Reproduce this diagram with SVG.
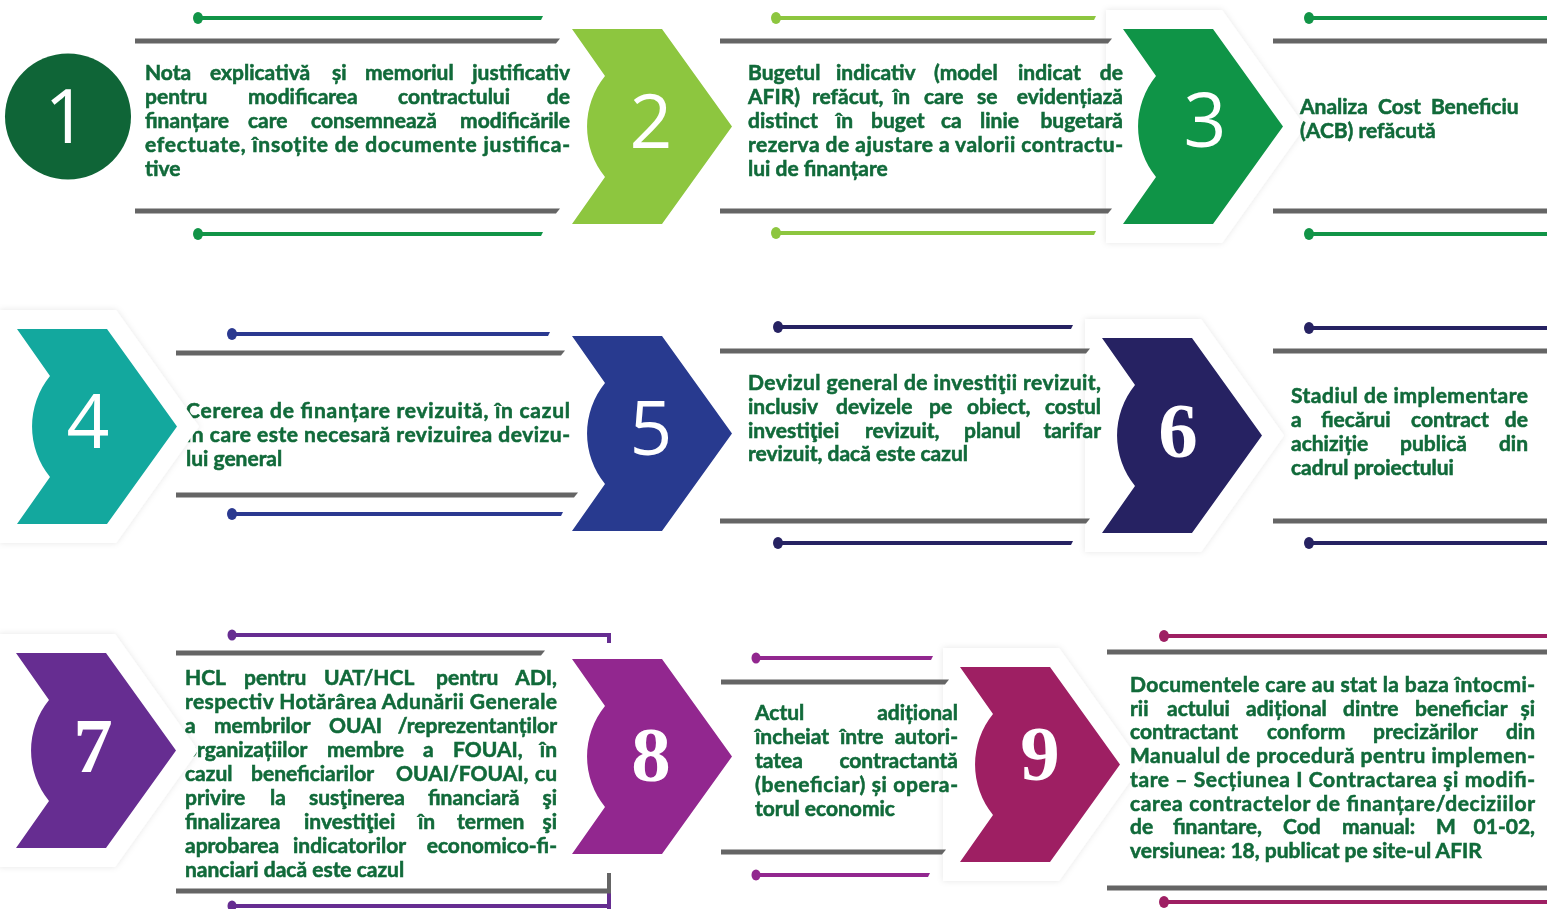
<svg xmlns="http://www.w3.org/2000/svg" xmlns:xlink="http://www.w3.org/1999/xlink" width="1547" height="909" viewBox="0 0 1547 909">
<style>
.t{font-family:Lato,"Open Sans","Liberation Sans",sans-serif;font-weight:700;font-size:21px;fill:#116a3a;stroke:#116a3a;stroke-width:0.55px}
.e{text-anchor:end}
.gl{fill:#656565}
.ns{font-family:"Open Sans","Liberation Sans",sans-serif;font-weight:500;font-size:75px;fill:#fff;text-anchor:middle}
.nf{font-family:"Liberation Serif",serif;font-weight:700;font-size:79px;fill:#fff;text-anchor:middle}
</style>
<defs>
<path id="chev" d="M0 0H90L160 97.5L90 195H0L33 148A80 80 0 0 1 33 47Z"/>
<path id="shd" d="M-17 -19H99L182 97.5L99 214H-17Z"/>
<filter id="soft" x="-20%" y="-20%" width="140%" height="140%"><feDropShadow dx="0" dy="0" stdDeviation="3" flood-color="#000" flood-opacity="0.10"/></filter>
</defs>
<rect width="1547" height="909" fill="#fff"/>

<g id="backdrops" fill="#fff" filter="url(#soft)">
<use href="#shd" x="1123" y="29"/>
<use href="#shd" x="1102" y="338"/>
<use href="#shd" x="960" y="667"/>
</g>

<g id="step1">
<g fill="#119447"><ellipse cx="198" cy="18" rx="5" ry="6"/><path d="M198 16H543L541 20H198Z"/><ellipse cx="198" cy="234" rx="5" ry="6"/><path d="M198 232H543L541 236H198Z"/></g>
<path class="gl" d="M135 38.5H560L556 43.5H135Z"/><path class="gl" d="M135 208.5H560L556 213.5H135Z"/>
<circle cx="68" cy="116.5" r="63" fill="#0f6537"/>
<text class="ns" x="66" y="143">1</text>
<text class="t" y="80"><tspan x="145">Nota</tspan><tspan x="210">explicativă</tspan><tspan x="332">și</tspan><tspan x="365">memoriul</tspan><tspan x="570" class="e">justificativ</tspan></text>
<text class="t" y="104"><tspan x="145">pentru</tspan><tspan x="248">modificarea</tspan><tspan x="398">contractului</tspan><tspan x="570" class="e">de</tspan></text>
<text class="t" y="128"><tspan x="145">finanțare</tspan><tspan x="248">care</tspan><tspan x="311">consemnează</tspan><tspan x="570" class="e">modificările</tspan></text>
<text class="t" x="145" y="152" textLength="425" lengthAdjust="spacing">efectuate, însoțite de documente justifica-</text>
<text class="t" x="145" y="176">tive</text>
</g>

<g id="step2">
<g fill="#8dc63f"><ellipse cx="776" cy="18" rx="5" ry="6"/><path d="M776 16H1096L1094 20H776Z"/><ellipse cx="776" cy="233" rx="5" ry="6"/><path d="M776 231H1096L1094 235H776Z"/></g>
<path class="gl" d="M720 38.5H1112L1108 43.5H720Z"/><path class="gl" d="M720 208.5H1112L1108 213.5H720Z"/>
<text class="t" y="80"><tspan x="748">Bugetul</tspan><tspan x="836">indicativ</tspan><tspan x="934">(model</tspan><tspan x="1018">indicat</tspan><tspan x="1123" class="e">de</tspan></text>
<text class="t" y="104"><tspan x="748">AFIR)</tspan><tspan x="812">refăcut,</tspan><tspan x="893">în</tspan><tspan x="924">care</tspan><tspan x="977">se</tspan><tspan x="1123" class="e">evidențiază</tspan></text>
<text class="t" y="128"><tspan x="748">distinct</tspan><tspan x="836">în</tspan><tspan x="871">buget</tspan><tspan x="941">ca</tspan><tspan x="980">linie</tspan><tspan x="1123" class="e">bugetară</tspan></text>
<text class="t" x="748" y="152" textLength="375" lengthAdjust="spacing">rezerva de ajustare a valorii contractu-</text>
<text class="t" x="748" y="176">lui de finanțare</text>
<use href="#chev" x="572" y="29" fill="#8dc63f"/>
<text class="ns" x="651" y="148">2</text>
</g>

<g id="step3">
<g fill="#119447"><ellipse cx="1309" cy="18" rx="5" ry="6"/><path d="M1309 16H1547V20H1309Z"/><ellipse cx="1309" cy="234" rx="5" ry="6"/><path d="M1309 232H1547V236H1309Z"/></g>
<path class="gl" d="M1273 38.5H1547V43.5H1273Z"/><path class="gl" d="M1273 208.5H1547V213.5H1273Z"/>
<text class="t" x="1300" y="114" word-spacing="5">Analiza Cost Beneficiu</text>
<text class="t" x="1300" y="138">(ACB) refăcută</text>
<use href="#chev" x="1123" y="29" fill="#0f9447"/>
<text class="ns" x="1205" y="147">3</text>
</g>

<g id="step4">
<g fill="#2b3990"><ellipse cx="232" cy="334" rx="5" ry="6"/><path d="M232 332H550L548 336H232Z"/><ellipse cx="232" cy="514" rx="5" ry="6"/><path d="M232 512H563L561 516H232Z"/></g>
<path class="gl" d="M176 350.5H565L561 355.5H176Z"/><path class="gl" d="M176 492.5H578L574 497.5H176Z"/>
<text class="t" x="186" y="418" textLength="384" lengthAdjust="spacing">Cererea de finanțare revizuită, în cazul</text>
<text class="t" x="186" y="442" textLength="384" lengthAdjust="spacing">în care este necesară revizuirea devizu-</text>
<text class="t" x="186" y="466">lui general</text>
<use href="#shd" x="17" y="329" fill="#fff" filter="url(#soft)"/>
<use href="#chev" x="17" y="329" fill="#13a89e"/>
<text class="ns" x="88" y="448">4</text>
</g>

<g id="step5">
<g fill="#262262"><ellipse cx="778" cy="327" rx="5" ry="6"/><path d="M778 325H1073L1071 329H778Z"/><ellipse cx="778" cy="543" rx="5" ry="6"/><path d="M778 541H1073L1071 545H778Z"/></g>
<path class="gl" d="M720 348.5H1090L1086 353.5H720Z"/><path class="gl" d="M720 518.5H1090L1086 523.5H720Z"/>
<text class="t" x="748" y="390" textLength="353" lengthAdjust="spacing">Devizul general de investiţii revizuit,</text>
<text class="t" y="414"><tspan x="748">inclusiv</tspan><tspan x="836">devizele</tspan><tspan x="929">pe</tspan><tspan x="967">obiect,</tspan><tspan x="1101" class="e">costul</tspan></text>
<text class="t" y="438"><tspan x="748">investiţiei</tspan><tspan x="865">revizuit,</tspan><tspan x="964">planul</tspan><tspan x="1101" class="e">tarifar</tspan></text>
<text class="t" x="748" y="461">revizuit, dacă este cazul</text>
<use href="#chev" x="572" y="336" fill="#283a8f"/>
<text class="ns" x="651" y="455">5</text>
</g>

<g id="step6">
<g fill="#262262"><ellipse cx="1309" cy="328" rx="5" ry="6"/><path d="M1309 326H1547V330H1309Z"/><ellipse cx="1309" cy="543" rx="5" ry="6"/><path d="M1309 541H1547V545H1309Z"/></g>
<path class="gl" d="M1273 348.5H1547V353.5H1273Z"/><path class="gl" d="M1273 518.5H1547V523.5H1273Z"/>
<text class="t" x="1291" y="403" textLength="237" lengthAdjust="spacing">Stadiul de implementare</text>
<text class="t" y="427"><tspan x="1291">a</tspan><tspan x="1321">fiecărui</tspan><tspan x="1411">contract</tspan><tspan x="1528" class="e">de</tspan></text>
<text class="t" y="451"><tspan x="1291">achiziție</tspan><tspan x="1400">publică</tspan><tspan x="1528" class="e">din</tspan></text>
<text class="t" x="1291" y="475">cadrul proiectului</text>
<use href="#chev" x="1102" y="338" fill="#262262"/>
<text class="nf" x="1178" y="457">6</text>
</g>

<g id="step7">
<g fill="#662d91"><ellipse cx="232" cy="635" rx="4.5" ry="5.5"/><path d="M232 633H611V643H607V637H232Z"/><ellipse cx="232" cy="906" rx="4.5" ry="5.5"/><path d="M232 904H607V890H611V909H607V908H232Z"/></g>
<path class="gl" d="M176 650.5H545L541 655.5H176Z"/><path class="gl" d="M176 888.5H607V873H611V893.5H176Z"/>
<text class="t" y="685"><tspan x="185">HCL</tspan><tspan x="244">pentru</tspan><tspan x="324">UAT/HCL</tspan><tspan x="436">pentru</tspan><tspan x="557" class="e">ADI,</tspan></text>
<text class="t" x="185" y="709" textLength="372" lengthAdjust="spacing">respectiv Hotărârea Adunării Generale</text>
<text class="t" y="733"><tspan x="185">a</tspan><tspan x="214">membrilor</tspan><tspan x="329">OUAI</tspan><tspan x="557" class="e">/reprezentanților</tspan></text>
<text class="t" y="757"><tspan x="185">organizațiilor</tspan><tspan x="327">membre</tspan><tspan x="423">a</tspan><tspan x="453">FOUAI,</tspan><tspan x="557" class="e">în</tspan></text>
<text class="t" y="781"><tspan x="185">cazul</tspan><tspan x="251">beneficiarilor</tspan><tspan x="396">OUAI/FOUAI,</tspan><tspan x="557" class="e">cu</tspan></text>
<text class="t" y="805"><tspan x="185">privire</tspan><tspan x="270">la</tspan><tspan x="309">susţinerea</tspan><tspan x="428">financiară</tspan><tspan x="557" class="e">şi</tspan></text>
<text class="t" y="829"><tspan x="185">finalizarea</tspan><tspan x="304">investiţiei</tspan><tspan x="418">în</tspan><tspan x="457">termen</tspan><tspan x="557" class="e">şi</tspan></text>
<text class="t" y="853"><tspan x="185">aprobarea</tspan><tspan x="293">indicatorilor</tspan><tspan x="557" class="e">economico-fi-</tspan></text>
<text class="t" x="185" y="877">nanciari dacă este cazul</text>
<use href="#shd" x="16" y="653" fill="#fff" filter="url(#soft)"/>
<use href="#chev" x="16" y="653" fill="#662d91"/>
<text class="nf" x="93" y="772">7</text>
</g>

<g id="step8">
<g fill="#92278f"><ellipse cx="756" cy="658" rx="4.5" ry="5.5"/><path d="M756 656H933L931 660H756Z"/><ellipse cx="756" cy="875" rx="4.5" ry="5.5"/><path d="M756 873H930L928 877H756Z"/></g>
<path class="gl" d="M721 679.5H949L945 684.5H721Z"/><path class="gl" d="M721 849.5H946L942 854.5H721Z"/>
<text class="t" y="720"><tspan x="755">Actul</tspan><tspan x="958" class="e">adițional</tspan></text>
<text class="t" y="744"><tspan x="755">încheiat</tspan><tspan x="840">între</tspan><tspan x="958" class="e">autori-</tspan></text>
<text class="t" y="768"><tspan x="755">tatea</tspan><tspan x="958" class="e">contractantă</tspan></text>
<text class="t" x="755" y="792" textLength="203" lengthAdjust="spacing">(beneficiar) și opera-</text>
<text class="t" x="755" y="816">torul economic</text>
<use href="#chev" x="572" y="659" fill="#92278f"/>
<text class="nf" x="651" y="781">8</text>
</g>

<g id="step9">
<g fill="#9e1f63"><ellipse cx="1164" cy="636" rx="5" ry="6"/><path d="M1164 634H1547V638H1164Z"/><ellipse cx="1164" cy="902" rx="5" ry="6"/><path d="M1164 900H1547V904H1164Z"/></g>
<path class="gl" d="M1107 649.5H1547V654.5H1107Z"/><path class="gl" d="M1107 885.5H1547V890.5H1107Z"/>
<text class="t" x="1130" y="692" textLength="405" lengthAdjust="spacing">Documentele care au stat la baza întocmi-</text>
<text class="t" y="716"><tspan x="1130">rii</tspan><tspan x="1167">actului</tspan><tspan x="1246">adițional</tspan><tspan x="1343">dintre</tspan><tspan x="1415">beneficiar</tspan><tspan x="1535" class="e">și</tspan></text>
<text class="t" y="739"><tspan x="1130">contractant</tspan><tspan x="1267">conform</tspan><tspan x="1373">precizărilor</tspan><tspan x="1535" class="e">din</tspan></text>
<text class="t" x="1130" y="763" textLength="405" lengthAdjust="spacing">Manualul de procedură pentru implemen-</text>
<text class="t" x="1130" y="787" textLength="405" lengthAdjust="spacing">tare – Secțiunea I Contractarea şi modifi-</text>
<text class="t" x="1130" y="811" textLength="405" lengthAdjust="spacing">carea contractelor de finanțare/deciziilor</text>
<text class="t" y="834"><tspan x="1130">de</tspan><tspan x="1173">finantare,</tspan><tspan x="1283">Cod</tspan><tspan x="1342">manual:</tspan><tspan x="1436">M</tspan><tspan x="1535" class="e">01-02,</tspan></text>
<text class="t" x="1130" y="858">versiunea: 18, publicat pe site-ul AFIR</text>
<use href="#chev" x="960" y="667" fill="#9e1f63"/>
<text class="nf" x="1040" y="780">9</text>
</g>
</svg>
